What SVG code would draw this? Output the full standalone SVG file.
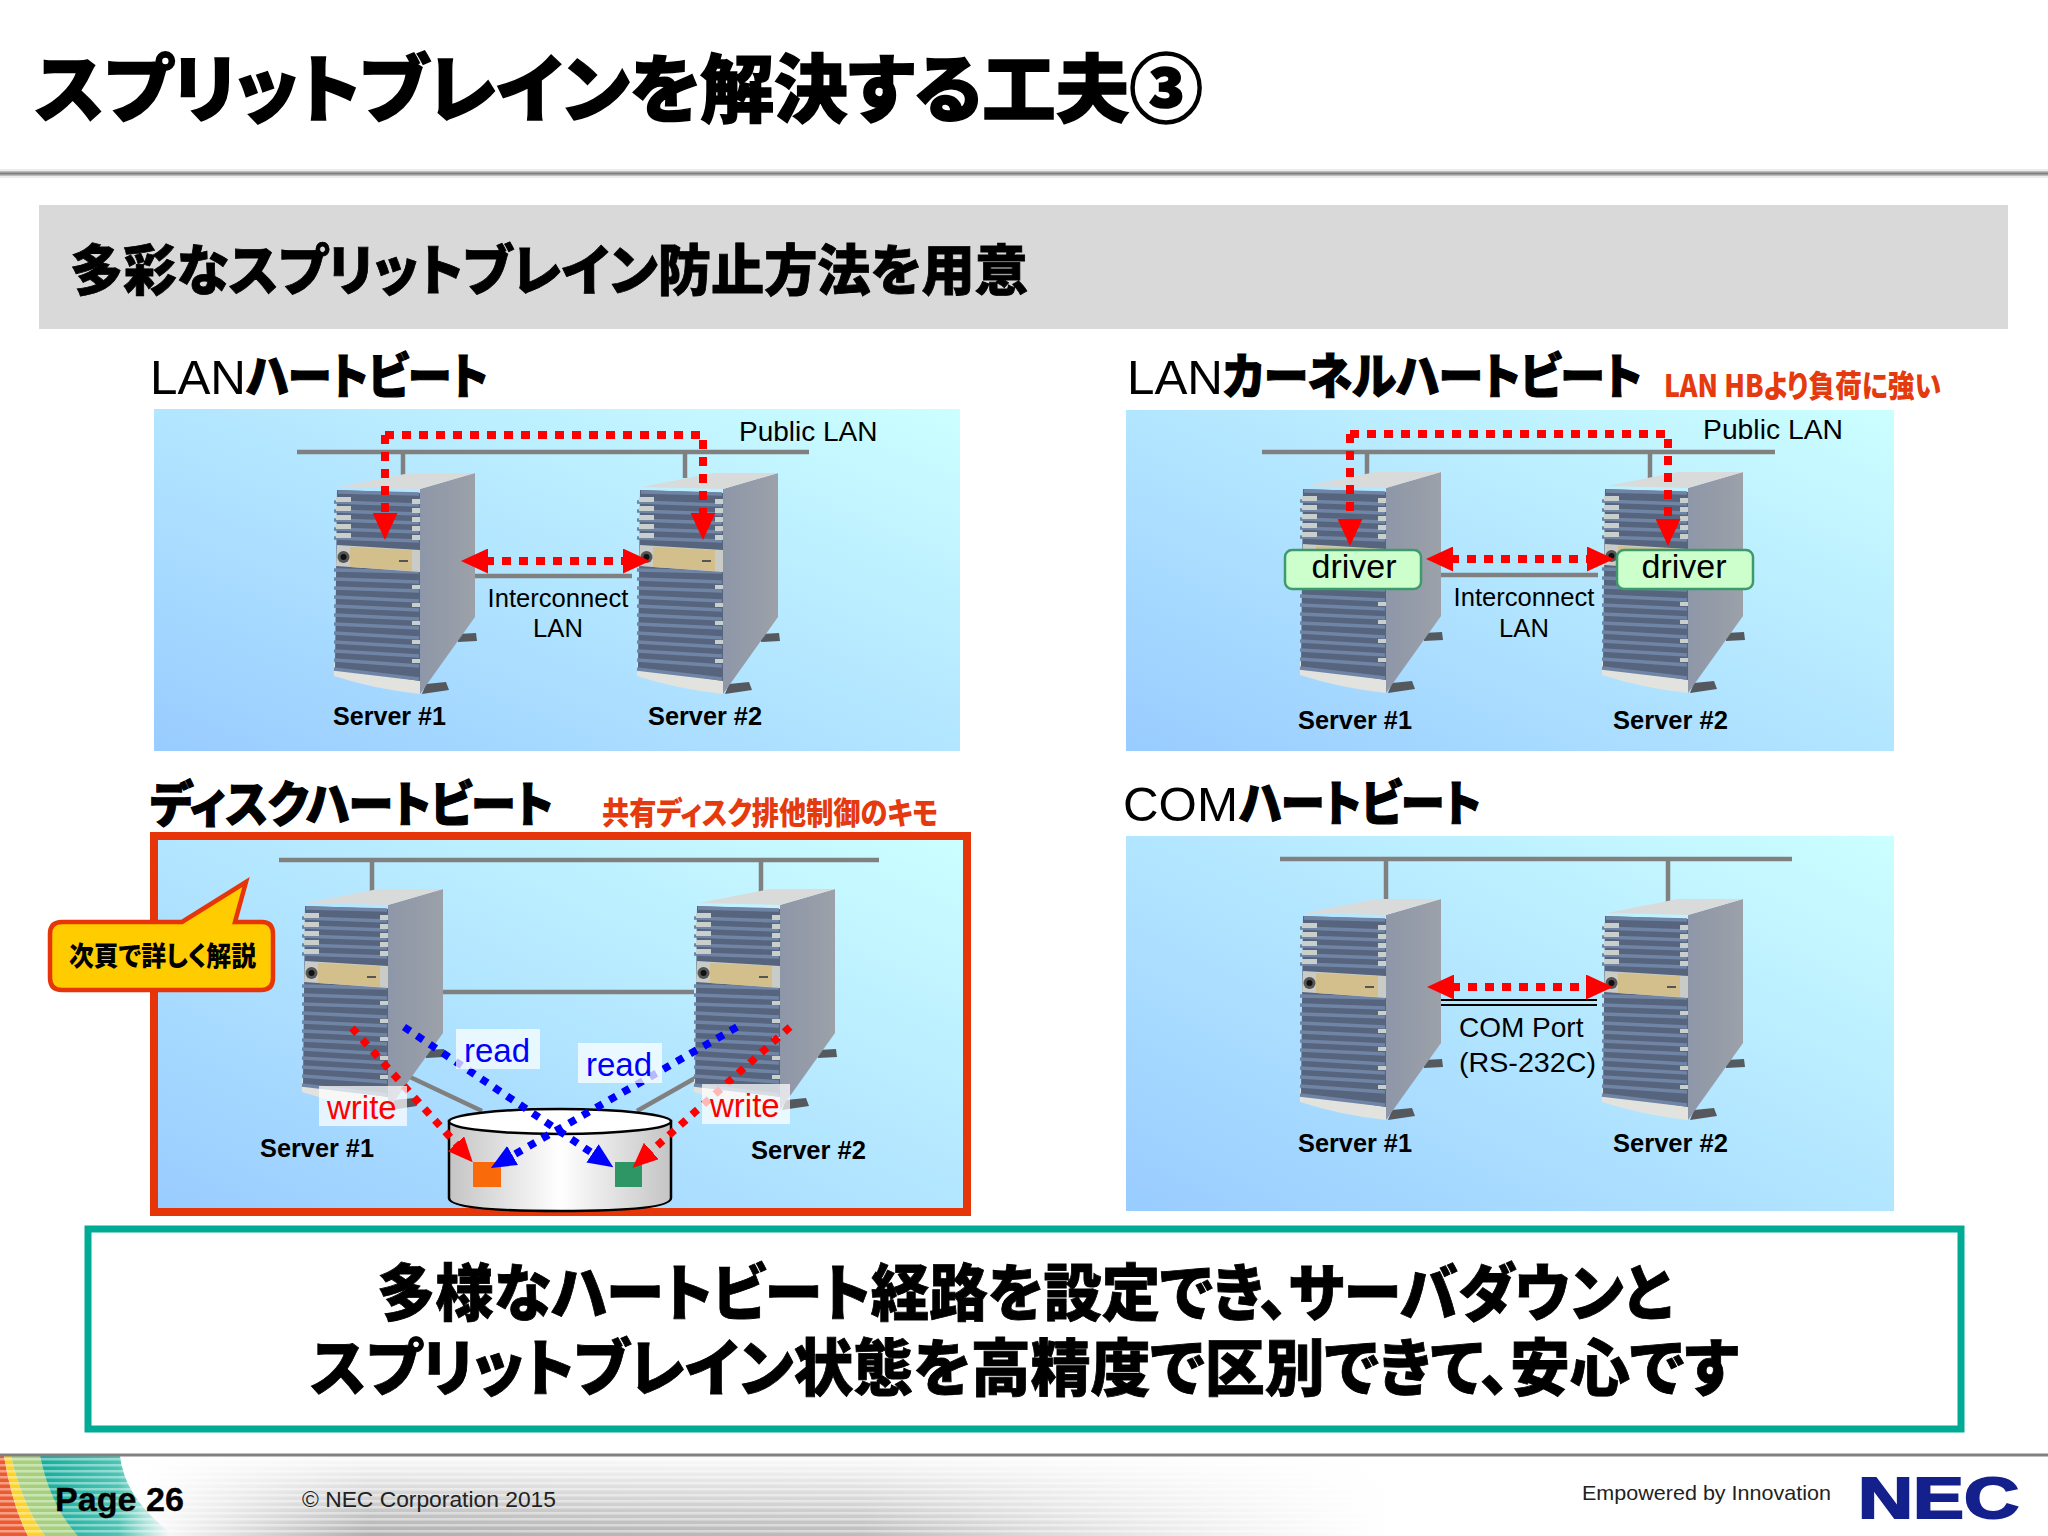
<svg xmlns="http://www.w3.org/2000/svg" width="2048" height="1536" viewBox="0 0 2048 1536">
<style>
.jp{font-family:"Noto Sans CJK JP","Liberation Sans",sans-serif;font-weight:900;font-feature-settings:"palt"}
.la{font-family:"Liberation Sans",sans-serif}
.b{font-weight:700}
.lbl{font-size:25.6px;fill:#000;text-anchor:middle}
.srv{font-size:25px;font-weight:700;fill:#000}
.pub{font-size:28px;fill:#000}
.hd{font-size:49px;fill:#000}
.hv{stroke:#000;stroke-width:1.2}
.red{fill:#e43a0e;font-size:31px}
.cable{stroke:#808080;stroke-width:4.5;fill:none}
.hb{stroke:#ff0000;stroke-width:8;stroke-dasharray:9 8;fill:none}
.hbd{stroke-width:7.5;stroke-dasharray:7.5 8;fill:none}
.band{stroke:#7085a5;stroke-width:3.6;fill:none}
.tab{fill:#c9cfcc}
.lab{fill:#fff;fill-opacity:.72}
</style>
<defs>
<linearGradient id="pg" x1="0" y1="1" x2="1" y2="0"><stop offset="0" stop-color="#99ccff"/><stop offset="1" stop-color="#ccffff"/></linearGradient>
<linearGradient id="side" x1="0" y1="0" x2="1" y2="0"><stop offset="0" stop-color="#8e97a8"/><stop offset="1" stop-color="#9ca1a9"/></linearGradient>
<linearGradient id="disk" x1="0" y1="0" x2="1" y2="0"><stop offset="0" stop-color="#c4c4c4"/><stop offset=".5" stop-color="#ffffff"/><stop offset="1" stop-color="#c4c4c4"/></linearGradient>
<linearGradient id="fg" x1="0" y1="0" x2="1" y2="0"><stop offset="0" stop-color="#b0b0b0" stop-opacity="0"/><stop offset=".07" stop-color="#b0b0b0" stop-opacity="0"/><stop offset=".18" stop-color="#b0b0b0"/><stop offset=".42" stop-color="#bcbcbc"/><stop offset=".68" stop-color="#dddddd" stop-opacity="0"/></linearGradient>
<linearGradient id="fv" x1="0" y1="0" x2="0" y2="1"><stop offset="0" stop-color="#fff" stop-opacity=".95"/><stop offset=".45" stop-color="#fff" stop-opacity=".5"/><stop offset="1" stop-color="#fff" stop-opacity="0"/></linearGradient>
<linearGradient id="teal" gradientUnits="userSpaceOnUse" x1="40" y1="0" x2="170" y2="0"><stop offset="0" stop-color="#14ad9c"/><stop offset=".6" stop-color="#4cc4b4"/><stop offset="1" stop-color="#58c8b8" stop-opacity="0"/></linearGradient>
<pattern id="stripes" width="6" height="6" patternUnits="userSpaceOnUse"><rect width="6" height="2.5" fill="#fff" fill-opacity=".42"/></pattern>
<marker id="ar" viewBox="0 0 27 25" markerWidth="27" markerHeight="25" markerUnits="userSpaceOnUse" refX="3" refY="12.5" orient="auto-start-reverse"><path d="M0,0L27,12.5L0,25Z" fill="#ff0000"/></marker>
<marker id="dr" viewBox="0 0 25 22" markerWidth="25" markerHeight="22" markerUnits="userSpaceOnUse" refX="3" refY="11" orient="auto"><path d="M0,0L25,11L0,22Z" fill="#ff0000"/></marker>
<marker id="db" viewBox="0 0 25 22" markerWidth="25" markerHeight="22" markerUnits="userSpaceOnUse" refX="3" refY="11" orient="auto"><path d="M0,0L25,11L0,22Z" fill="#0000ff"/></marker>
<g id="server">
<path d="M124,161L142,160L143,168L124,169Z" fill="#555a5e"/>
<path d="M92,211L112,209L115,217L88,221Z" fill="#55585c"/>
<path d="M86,16L141,0V144L86,221Z" fill="url(#side)"/>
<path d="M5,14L76,0H141L86,16Z" fill="#d8dbd9"/>
<path d="M0,203Q40,216 86,221V205L0,190Z" fill="#e2e3df"/>
<path d="M3,17L86,20V208L1,195Z" fill="#56647e"/>
<path class="band" d="M4,19L85,21"/>
<path class="band" d="M0,29L85,32M0,38L85,41M0,47L85,50M0,56L85,59M0,65L85,68"/>
<path class="band" d="M0,97L85,99M0,106L85,109M0,115L85,118M0,124L85,128M0,133L85,137M0,142L85,146M0,151L85,155M0,160L85,165M0,169L85,174M0,178L85,183M0,187L85,193M0,196L85,206"/>
<rect class="tab" x="2" y="24" width="15" height="5"/><rect class="tab" x="2" y="33" width="15" height="5"/><rect class="tab" x="2" y="42" width="15" height="5"/><rect class="tab" x="2" y="51" width="15" height="5"/><rect class="tab" x="2" y="60" width="15" height="5"/>
<rect class="tab" x="78" y="26" width="8" height="5"/><rect class="tab" x="78" y="35" width="8" height="5"/><rect class="tab" x="78" y="44" width="8" height="5"/><rect class="tab" x="78" y="53" width="8" height="5"/><rect class="tab" x="78" y="62" width="8" height="5"/>
<rect class="tab" x="78" y="112" width="8" height="4"/><rect class="tab" x="78" y="130" width="8" height="4"/><rect class="tab" x="78" y="148" width="8" height="4"/><rect class="tab" x="78" y="167" width="8" height="4"/><rect class="tab" x="78" y="186" width="8" height="4"/>
<path d="M3,72L86,77V99L2,93Z" fill="#c8cbc6"/>
<path d="M16,74L78,77V98L16,94Z" fill="#d2bf8c"/>
<circle cx="9.5" cy="84" r="6" fill="#555"/><circle cx="9.5" cy="84" r="3" fill="#111"/>
<rect x="65" y="87" width="9" height="2" fill="#555"/>
</g>
</defs>
<rect width="2048" height="1536" fill="#fff"/>

<g id="header">
<rect x="0" y="169" width="2048" height="9" fill="#ececec"/>
<rect x="0" y="171" width="2048" height="5" fill="#bdbdbd"/>
<rect x="0" y="172.500" width="2048" height="2" fill="#808080"/>
<text class="jp" x="35" y="116" font-size="74" stroke="#000" stroke-width="1.5" textLength="1168" lengthAdjust="spacingAndGlyphs">スプリットブレインを解決する工夫③</text>
<rect x="39" y="205" width="1969" height="124" fill="#d9d9d9"/>
<text class="jp" x="70" y="290" font-size="55" fill="#000" stroke="#000" stroke-width=".8" textLength="958" lengthAdjust="spacingAndGlyphs">多彩なスプリットブレイン防止方法を用意</text>
</g>

<g id="headings">
<text class="la hd" x="150" y="394" textLength="96" lengthAdjust="spacingAndGlyphs">LAN</text>
<text class="jp hd hv" x="246" y="394" textLength="242" lengthAdjust="spacingAndGlyphs">ハートビート</text>
<text class="la hd" x="1127" y="394" textLength="96" lengthAdjust="spacingAndGlyphs">LAN</text>
<text class="jp hd hv" x="1223" y="394" textLength="419" lengthAdjust="spacingAndGlyphs">カーネルハートビート</text>
<text class="jp red" x="1664" y="397" textLength="277" lengthAdjust="spacingAndGlyphs">LAN HBより負荷に強い</text>
<text class="jp hd hv" x="150" y="822" textLength="403" lengthAdjust="spacingAndGlyphs">ディスクハートビート</text>
<text class="jp red" x="602" y="824" textLength="336" lengthAdjust="spacingAndGlyphs">共有ディスク排他制御のキモ</text>
<text class="la hd" x="1123" y="821" textLength="115" lengthAdjust="spacingAndGlyphs">COM</text>
<text class="jp hd hv" x="1239" y="821" textLength="242" lengthAdjust="spacingAndGlyphs">ハートビート</text>
</g>

<g id="panels">
<rect x="154" y="409" width="806" height="342" fill="url(#pg)"/>
<rect x="1126" y="410" width="768" height="341" fill="url(#pg)"/>
<rect x="154" y="836" width="813" height="376" fill="url(#pg)" stroke="#e63508" stroke-width="8"/>
<rect x="1126" y="836" width="768" height="375" fill="url(#pg)"/>
</g>

<g id="connectors-cables">
<path class="cable" d="M297,452H809M403,452V476M685,452V478M475,576H632"/>
<path class="cable" d="M1262,452H1775M1367,452V476M1650,452V478M1440,575H1598"/>
<path class="cable" d="M279,860H879M372,860V892M761,860V892M442,992H694M410,1077L482,1111M697,1077L637,1111"/>
<path class="cable" d="M1280,859H1792M1386,859V903M1668,859V905"/>
<path d="M1440,1000H1597M1440,1005H1597" stroke="#000" stroke-width="2" fill="none"/>
</g>

<g id="node-lan-server1"><use href="#server" x="334" y="473"/></g>
<g id="node-lan-server2"><use href="#server" x="637" y="473"/></g>
<g id="node-kernel-server1"><use href="#server" x="1300" y="472"/></g>
<g id="node-kernel-server2"><use href="#server" x="1602" y="472"/></g>
<g id="node-disk-server1"><use href="#server" x="302" y="889"/></g>
<g id="node-disk-server2"><use href="#server" x="694" y="889"/></g>
<g id="node-com-server1"><use href="#server" x="1300" y="899"/></g>
<g id="node-com-server2"><use href="#server" x="1602" y="899"/></g>

<g id="node-driver1"><rect x="1285" y="550" width="136" height="39" rx="7" fill="#ccffcc" stroke="#3d9a6c" stroke-width="2.500"/><text class="la" x="1354" y="578" font-size="34" text-anchor="middle">driver</text></g>
<g id="node-driver2"><rect x="1617" y="550" width="136" height="39" rx="7" fill="#ccffcc" stroke="#3d9a6c" stroke-width="2.500"/><text class="la" x="1684" y="578" font-size="34" text-anchor="middle">driver</text></g>

<g id="node-disk">
<path d="M449,1121V1198Q449,1211 560,1211Q671,1211 671,1198V1121Z" fill="url(#disk)" stroke="#000" stroke-width="2.500"/>
<ellipse cx="560" cy="1121.500" rx="111" ry="12.500" fill="#fff" stroke="#000" stroke-width="2.500"/>
<rect x="473" y="1162" width="28" height="25" fill="#f96b0a"/>
<rect x="615" y="1162" width="27" height="25" fill="#2e9564"/>
</g>

<g id="connectors-heartbeat">
<path class="hb" d="M385,435H703V516" marker-end="url(#ar)"/>
<path class="hb" d="M385,435V516" marker-end="url(#ar)"/>
<path class="hb" d="M485,561H626" marker-start="url(#ar)" marker-end="url(#ar)"/>
<path class="hb" d="M1350,434H1668V522" marker-end="url(#ar)"/>
<path class="hb" d="M1350,434V522" marker-end="url(#ar)"/>
<path class="hb" d="M1450,559H1590" marker-start="url(#ar)" marker-end="url(#ar)"/>
<path class="hb" d="M1451,987H1589" marker-start="url(#ar)" marker-end="url(#ar)"/>
<path class="hbd" stroke="#ff0000" d="M352,1028L458,1146" marker-end="url(#dr)"/>
<path class="hbd" stroke="#0000ff" d="M404,1027L595,1155" marker-end="url(#db)"/>
<path class="hbd" stroke="#0000ff" d="M737,1027L510,1157" marker-end="url(#db)"/>
<path class="hbd" stroke="#ff0000" d="M790,1027L649,1153" marker-end="url(#dr)"/>
</g>

<g id="labels">
<text class="la pub" x="739" y="441">Public LAN</text>
<text class="la lbl" x="558" y="607">Interconnect</text>
<text class="la lbl" x="558" y="637">LAN</text>
<text class="la srv" x="333" y="725" textLength="113" lengthAdjust="spacingAndGlyphs">Server #1</text>
<text class="la srv" x="648" y="725" textLength="114" lengthAdjust="spacingAndGlyphs">Server #2</text>
<text class="la pub" x="1703" y="439" textLength="140" lengthAdjust="spacingAndGlyphs">Public LAN</text>
<text class="la lbl" x="1524" y="606">Interconnect</text>
<text class="la lbl" x="1524" y="637">LAN</text>
<text class="la srv" x="1298" y="729" textLength="114" lengthAdjust="spacingAndGlyphs">Server #1</text>
<text class="la srv" x="1613" y="729" textLength="115" lengthAdjust="spacingAndGlyphs">Server #2</text>
<text class="la srv" x="260" y="1157" textLength="114" lengthAdjust="spacingAndGlyphs">Server #1</text>
<text class="la srv" x="751" y="1159" textLength="115" lengthAdjust="spacingAndGlyphs">Server #2</text>
<text class="la srv" x="1298" y="1152" textLength="114" lengthAdjust="spacingAndGlyphs">Server #1</text>
<text class="la srv" x="1613" y="1152" textLength="115" lengthAdjust="spacingAndGlyphs">Server #2</text>
<text class="la" x="1459" y="1037" font-size="28">COM Port</text>
<text class="la" x="1459" y="1072" font-size="28" textLength="137" lengthAdjust="spacingAndGlyphs">(RS-232C)</text>
<rect class="lab" x="456" y="1029" width="84" height="40"/>
<rect class="lab" x="578" y="1043" width="84" height="40"/>
<rect class="lab" x="319" y="1086" width="88" height="40"/>
<rect class="lab" x="702" y="1084" width="88" height="40"/>
<text class="la" x="464" y="1062" font-size="33" fill="#0000ff">read</text>
<text class="la" x="586" y="1076" font-size="33" fill="#0000ff">read</text>
<text class="la" x="327" y="1119" font-size="33" fill="#ff0000">write</text>
<text class="la" x="710" y="1117" font-size="33" fill="#ff0000">write</text>
</g>

<g id="node-callout">
<path d="M62,922H182L246,882L235,922H262Q273,922 273,934V978Q273,990 261,990H62Q50,990 50,978V934Q50,922 62,922Z" fill="#ffcc00" stroke="#e63508" stroke-width="4.500"/>
<text class="jp" x="69" y="966" font-size="27" fill="#000" textLength="187" lengthAdjust="spacingAndGlyphs">次頁で詳しく解説</text>
</g>

<g id="node-summary">
<rect x="88" y="1229" width="1873" height="200" fill="#fff" stroke="#00ab96" stroke-width="7"/>
<text class="jp" x="377" y="1316" font-size="62" fill="#000" stroke="#000" stroke-width=".8" textLength="1295" lengthAdjust="spacingAndGlyphs">多様なハートビート経路を設定でき、サーバダウンと</text>
<text class="jp" x="310" y="1391" font-size="62" fill="#000" stroke="#000" stroke-width=".8" textLength="1428" lengthAdjust="spacingAndGlyphs">スプリットブレイン状態を高精度で区別できて、安心です</text>
</g>

<g id="footer">
<rect x="0" y="1456" width="2048" height="80" fill="#fff"/>
<rect x="0" y="1456" width="2048" height="80" fill="url(#fg)"/>
<rect x="0" y="1456" width="2048" height="80" fill="url(#fv)"/>
<path d="M0,1456H4Q12,1505 28,1536H0Z" fill="#ee5a30"/>
<path d="M4,1456H11Q22,1505 45,1536H28Q12,1505 4,1456Z" fill="#fdd32a"/>
<path d="M11,1456H40Q50,1505 80,1536H45Q22,1505 11,1456Z" fill="#a6d07e"/>
<path d="M40,1456H120Q125,1500 175,1536H78Q50,1505 40,1456Z" fill="url(#teal)"/>
<rect x="0" y="1456" width="1400" height="80" fill="url(#stripes)"/>
<rect x="0" y="1453.500" width="2048" height="3" fill="#808080"/>
<text class="la b" x="55" y="1511" font-size="33" fill="#000" stroke="#000" stroke-width=".3" textLength="129" lengthAdjust="spacingAndGlyphs">Page 26</text>
<text class="la" x="302" y="1507" font-size="22.200" fill="#222" textLength="254" lengthAdjust="spacingAndGlyphs">© NEC Corporation 2015</text>
<text class="la" x="1582" y="1500" font-size="21" fill="#222" textLength="249" lengthAdjust="spacingAndGlyphs">Empowered by Innovation</text>
<text class="la b" x="1858" y="1518" font-size="58" fill="#14208c" stroke="#14208c" stroke-width="2" textLength="161" lengthAdjust="spacingAndGlyphs">NEC</text>
</g>
</svg>
